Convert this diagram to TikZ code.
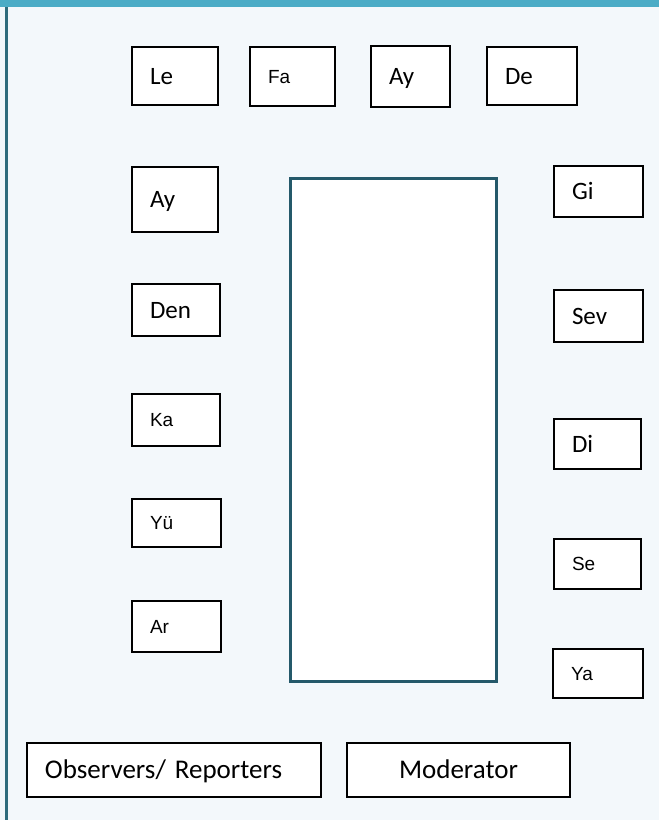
\documentclass[tikz,border=0pt]{standalone}
\usepackage{fontspec}
\setmainfont{Carlito}
\newfontfamily\arialfont{Liberation Sans}
\definecolor{pagebg}{HTML}{F3F8FB}
\definecolor{topband}{HTML}{4BACC6}
\definecolor{edgerule}{HTML}{2F6C7C}
\definecolor{tableline}{HTML}{24596A}
\begin{document}
\begin{tikzpicture}[x=1pt,y=-1pt,
  bigfont/.style={font=\fontsize{25}{30}\selectfont, text height=16pt, text depth=0pt},
  smallfont/.style={font=\arialfont\fontsize{19}{23}\selectfont, text height=13.6pt, text depth=0pt},
  rolefont/.style={font=\fontsize{27}{32}\selectfont, text height=17.4pt, text depth=0pt},
  seat/.style={draw=black, line width=1.5pt, fill=white, inner xsep=18pt, inner ysep=0pt, align=left},
  tablebox/.style={draw=tableline, line width=3pt, fill=white, inner sep=0pt}]
  \useasboundingbox (0,0) rectangle (659,820);
  % page background, header band and left rule
  \fill[pagebg] (0,0) rectangle (659,820);
  \fill[topband] (0,0) rectangle (659,7);
  \fill[edgerule] (5,7) rectangle (7.5,820);

  % the table
  \node[tablebox, minimum width=206pt, minimum height=503pt] (table) at (393,429.5) {};

  % top row
  \node[seat, bigfont,   text width=50pt, minimum height=58pt] (le)   at (175,76)    {Le};
  \node[seat, smallfont, text width=49pt, minimum height=59pt] (fa)   at (292.5,76.5) {Fa};
  \node[seat, bigfont,   text width=43pt, minimum height=61pt] (ayt)  at (410.5,76.5) {Ay};
  \node[seat, bigfont,   text width=54pt, minimum height=58pt] (de)   at (532,76)    {De};

  % left column
  \node[seat, bigfont,   text width=50pt, minimum height=65pt] (ayl)  at (175,199.5)  {Ay};
  \node[seat, bigfont,   text width=52pt, minimum height=52pt] (den)  at (176,310)    {Den};
  \node[seat, smallfont, text width=52pt, minimum height=52pt] (ka)   at (176,420)    {Ka};
  \node[seat, smallfont, text width=53pt, minimum height=48pt] (yu)   at (176.5,523)  {Yü};
  \node[seat, smallfont, text width=53pt, minimum height=51pt] (ar)   at (176.5,626.5) {Ar};

  % right column
  \node[seat, bigfont,   text width=53pt, minimum height=51pt] (gi)   at (598.5,191.5) {Gi};
  \node[seat, bigfont,   text width=53pt, minimum height=52pt] (sev)  at (598.5,316)  {Sev};
  \node[seat, bigfont,   text width=51pt, minimum height=50pt] (di)   at (597.5,444)  {Di};
  \node[seat, smallfont, text width=51pt, minimum height=50pt] (se)   at (597.5,564)  {Se};
  \node[seat, smallfont, text width=54pt, minimum height=49pt] (ya)   at (598,673.5)  {Ya};

  % roles at the bottom
  \node[seat, rolefont, text width=258pt, minimum height=54pt] (obs) at (174,770) {Observers/ Reporters};
  \node[seat, rolefont, align=center, text width=187pt, minimum height=54pt] (mod) at (458.5,770) {Moderator};
\end{tikzpicture}
\end{document}
